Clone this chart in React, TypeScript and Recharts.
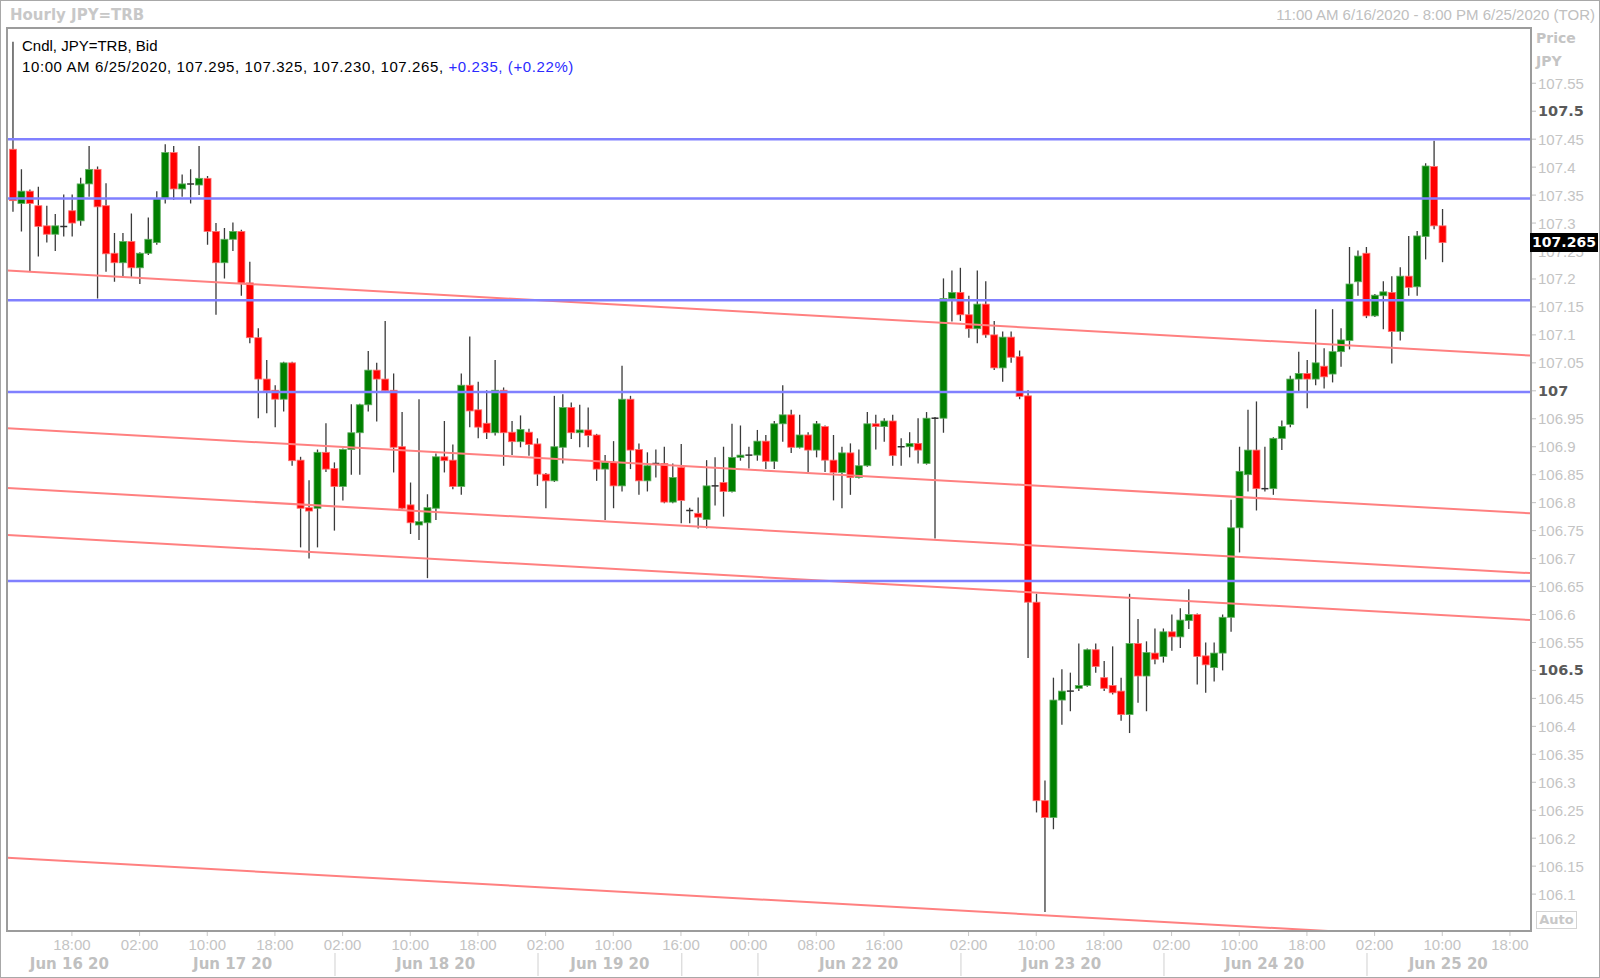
import { ComposedChart, Bar, XAxis, YAxis, ReferenceLine } from "recharts";

// hourly candles, 11:00 AM 6/16 -> 10:00 AM 6/25 (TOR)
const opens = [
  107.432, 107.335, 107.357, 107.331, 107.295, 107.28, 107.294, 107.322, 107.304, 107.37,
  107.396, 107.331, 107.246, 107.229, 107.267, 107.22, 107.246, 107.265, 107.344, 107.426,
  107.361, 107.37, 107.368, 107.38, 107.285, 107.229, 107.271, 107.285, 107.193, 107.095,
  107.021, 107.001, 106.985, 107.05, 106.876, 106.791, 106.79, 106.89, 106.861, 106.829,
  106.895, 106.925, 106.975, 107.037, 107.021, 107.001, 106.9, 106.796, 106.76, 106.764,
  106.79, 106.882, 106.876, 106.829, 107.01, 106.966, 106.942, 106.925, 107.001, 106.926,
  106.909, 106.926, 106.905, 106.851, 106.839, 106.899, 106.97, 106.925, 106.93, 106.921,
  106.86, 106.872, 106.83, 106.985, 106.895, 106.839, 106.87, 106.87, 106.801, 106.863,
  106.786, 106.781, 106.77, 106.83, 106.836, 106.82, 106.881, 106.885, 106.885, 106.91,
  106.874, 106.941, 106.957, 106.899, 106.921, 106.894, 106.936, 106.876, 106.854, 106.889,
  106.845, 106.866, 106.941, 106.936, 106.946, 106.9, 106.9, 106.906, 106.87, 106.951,
  106.951, 107.165, 107.176, 107.136, 107.111, 107.155, 107.1, 107.041, 107.096, 107.061,
  106.991, 106.622, 106.267, 106.237, 106.447, 106.463, 106.468, 106.473, 106.537, 106.487,
  106.473, 106.463, 106.421, 106.548, 106.49, 106.531, 106.525, 106.569, 106.56, 106.589,
  106.6, 106.526, 106.505, 106.531, 106.595, 106.755, 106.85, 106.894, 106.825, 106.825,
  106.915, 106.94, 107.021, 107.031, 107.021, 107.044, 107.03, 107.07, 107.09, 107.195,
  107.246, 107.134, 107.17, 107.176, 107.106, 107.205, 107.186, 107.276, 107.401, 107.295,
];
const highs = [
  107.624, 107.396, 107.36, 107.365, 107.331, 107.316, 107.351, 107.351, 107.381, 107.438,
  107.401, 107.371, 107.282, 107.282, 107.317, 107.248, 107.31, 107.357, 107.441, 107.438,
  107.387, 107.396, 107.438, 107.384, 107.3, 107.291, 107.301, 107.288, 107.231, 107.112,
  107.055, 107.01, 107.052, 107.052, 106.882, 106.84, 106.895, 106.942, 106.872, 106.897,
  106.976, 106.977, 107.071, 107.05, 107.125, 107.031, 106.962, 106.836, 106.985, 106.815,
  106.888, 106.946, 106.904, 107.031, 107.097, 107.016, 107.001, 107.055, 107.006, 106.946,
  106.956, 106.932, 106.915, 106.853, 106.991, 106.994, 106.979, 106.975, 106.97, 106.923,
  106.885, 106.91, 107.045, 106.991, 106.906, 106.89, 106.895, 106.9, 106.87, 106.905,
  106.791, 106.809, 106.876, 106.881, 106.9, 106.941, 106.938, 106.9, 106.93, 106.921,
  106.946, 107.01, 106.966, 106.957, 106.926, 106.946, 106.938, 106.921, 106.9, 106.906,
  106.895, 106.962, 106.957, 106.951, 106.957, 106.915, 106.926, 106.951, 106.962, 106.953,
  107.201, 107.215, 107.22, 107.17, 107.215, 107.196, 107.125, 107.106, 107.106, 107.072,
  107.001, 106.637, 106.303, 106.487, 106.502, 106.496, 106.548, 106.539, 106.548, 106.517,
  106.543, 106.487, 106.637, 106.592, 106.552, 106.575, 106.575, 106.6, 106.611, 106.645,
  106.602, 106.55, 106.55, 106.6, 106.805, 106.9, 106.966, 106.981, 106.9, 106.917,
  106.947, 107.027, 107.07, 107.055, 107.146, 107.076, 107.146, 107.112, 107.257, 107.251,
  107.257, 107.173, 107.196, 107.205, 107.221, 107.277, 107.286, 107.407, 107.447, 107.325,
];
const lows = [
  107.32, 107.285, 107.213, 107.24, 107.265, 107.25, 107.276, 107.276, 107.295, 107.347,
  107.165, 107.213, 107.195, 107.204, 107.204, 107.191, 107.243, 107.261, 107.335, 107.341,
  107.347, 107.335, 107.35, 107.261, 107.136, 107.201, 107.25, 107.17, 107.085, 106.951,
  106.96, 106.935, 106.963, 106.866, 106.72, 106.7, 106.72, 106.855, 106.75, 106.804,
  106.85, 106.85, 106.963, 106.945, 106.998, 106.854, 106.788, 106.744, 106.733, 106.665,
  106.769, 106.854, 106.824, 106.814, 106.935, 106.915, 106.914, 106.92, 106.866, 106.885,
  106.899, 106.884, 106.83, 106.79, 106.837, 106.87, 106.914, 106.899, 106.899, 106.839,
  106.769, 106.79, 106.82, 106.86, 106.814, 106.82, 106.845, 106.799, 106.799, 106.763,
  106.763, 106.754, 106.754, 106.795, 106.775, 106.818, 106.875, 106.861, 106.875, 106.86,
  106.86, 106.909, 106.889, 106.897, 106.855, 106.881, 106.855, 106.804, 106.79, 106.814,
  106.843, 106.864, 106.895, 106.909, 106.866, 106.866, 106.881, 106.87, 106.868, 106.736,
  106.925, 107.124, 107.125, 107.095, 107.085, 107.095, 107.037, 107.016, 107.05, 106.985,
  106.522, 106.246, 106.068, 106.216, 106.403, 106.427, 106.463, 106.471, 106.496, 106.463,
  106.457, 106.41, 106.388, 106.442, 106.427, 106.511, 106.514, 106.535, 106.54, 106.574,
  106.475, 106.46, 106.48, 106.5, 106.569, 106.711, 106.82, 106.786, 106.82, 106.814,
  106.894, 106.935, 106.999, 106.969, 107.01, 107.004, 107.015, 107.043, 107.074, 107.17,
  107.13, 107.132, 107.11, 107.049, 107.09, 107.17, 107.17, 107.235, 107.289, 107.23,
];
const closes = [
  107.34, 107.357, 107.335, 107.294, 107.28, 107.295, 107.294, 107.3, 107.37, 107.396,
  107.329, 107.245, 107.229, 107.267, 107.22, 107.246, 107.271, 107.344, 107.426, 107.361,
  107.37, 107.37, 107.38, 107.285, 107.229, 107.271, 107.285, 107.193, 107.095, 107.021,
  107.0, 106.985, 107.05, 106.875, 106.79, 106.785, 106.89, 106.86, 106.829, 106.895,
  106.925, 106.975, 107.037, 107.021, 107.0, 106.899, 106.79, 106.764, 106.766, 106.791,
  106.882, 106.875, 106.829, 107.01, 106.964, 106.935, 106.925, 107.001, 106.925, 106.909,
  106.931, 106.904, 106.851, 106.839, 106.9, 106.97, 106.925, 106.93, 106.92, 106.86,
  106.872, 106.83, 106.985, 106.894, 106.839, 106.866, 106.87, 106.801, 106.845, 106.804,
  106.786, 106.774, 106.83, 106.83, 106.82, 106.881, 106.885, 106.885, 106.91, 106.874,
  106.941, 106.957, 106.899, 106.921, 106.894, 106.941, 106.876, 106.854, 106.889, 106.845,
  106.866, 106.941, 106.936, 106.946, 106.884, 106.9, 106.906, 106.894, 106.951, 106.951,
  107.165, 107.176, 107.136, 107.111, 107.155, 107.1, 107.041, 107.096, 107.06, 106.99,
  106.622, 106.267, 106.237, 106.447, 106.463, 106.463, 106.473, 106.537, 106.507, 106.468,
  106.46, 106.421, 106.548, 106.49, 106.532, 106.52, 106.569, 106.56, 106.59, 106.6,
  106.525, 106.51, 106.531, 106.595, 106.755, 106.856, 106.894, 106.825, 106.825, 106.915,
  106.936, 107.021, 107.031, 107.021, 107.05, 107.025, 107.07, 107.091, 107.191, 107.241,
  107.134, 107.171, 107.177, 107.106, 107.205, 107.185, 107.277, 107.402, 107.295, 107.265,
];

const timeTicks = [7, 15, 23, 31, 39, 47, 55, 63, 71, 79, 87, 95, 103, 113, 121, 129, 137, 145, 153, 161, 169, 177];
const timeLabels = [
  "18:00", "02:00", "10:00", "18:00", "02:00", "10:00", "18:00", "02:00", "10:00", "16:00", "00:00",
  "08:00", "16:00", "02:00", "10:00", "18:00", "02:00", "10:00", "18:00", "02:00", "10:00", "18:00",
];
const dateTicks = [6.7, 26, 50, 70.6, 100, 124, 148, 169.7];
const dateLabels = ["Jun 16 20", "Jun 17 20", "Jun 18 20", "Jun 19 20", "Jun 22 20", "Jun 23 20", "Jun 24 20", "Jun 25 20"];
const dateSeparators = [38.1, 62.1, 79.1, 88.1, 112.1, 136.1, 160.1];

const priceTicks = [
  107.55, 107.5, 107.45, 107.4, 107.35, 107.3, 107.25, 107.2, 107.15, 107.1, 107.05, 107,
  106.95, 106.9, 106.85, 106.8, 106.75, 106.7, 106.65, 106.6, 106.55, 106.5, 106.45, 106.4,
  106.35, 106.3, 106.25, 106.2, 106.15, 106.1,
];
const boldPrices = [107.5, 107, 106.5];

// horizontal levels (blue) and the falling channel (red)
const levels = [107.45, 107.344, 107.162, 106.998, 106.66];
const channelStart = [107.215, 106.933, 106.826, 106.742, 106.165];
const channelEnd = [107.063, 106.781, 106.674, 106.59, 106.014];

const X_MIN = -0.615;
const X_MAX = 179.37;
const Y_MIN = 106.0358;
const Y_MAX = 107.6479;

const data = opens.map((o, i) => ({ i, open: o, high: highs[i], low: lows[i], close: closes[i] }));

const REG = "'Liberation Sans', Arial, sans-serif";
const BOLD = "'DejaVu Sans', Verdana, sans-serif";

function Candle(props: any) {
  const { x, y, width, height, payload } = props;
  if (!payload) return null;
  const { open, close, high, low } = payload;
  const top = Math.min(y, y + height);
  const h = Math.abs(height);
  const k = high > low ? h / (high - low) : 0;
  const py = (v: number) => top + (high - v) * k;
  const cx = x + width / 2;
  const doji = Math.abs(close - open) < 0.0015;
  const up = close >= open;
  const bTop = py(Math.max(open, close));
  const bBot = py(Math.min(open, close));
  return (
    <g>
      <line x1={cx} x2={cx} y1={py(high)} y2={py(low)} stroke="#3a3a3a" strokeWidth={1.3} />
      {doji ? (
        <line x1={x} x2={x + width} y1={py(close)} y2={py(close)} stroke="#303030" strokeWidth={1.5} />
      ) : (
        <rect
          x={x}
          y={bTop}
          width={width}
          height={Math.max(1, bBot - bTop)}
          fill={up ? "#008000" : "#ff0000"}
          stroke={up ? "#5fae5f" : "#ff7070"}
          strokeWidth={0.8}
        />
      )}
    </g>
  );
}

function TimeTick(props: any) {
  const { x, payload } = props;
  const idx = timeTicks.indexOf(payload.value);
  return (
    <g>
      <line x1={x} x2={x} y1={931} y2={936} stroke="#c8c8c8" />
      <text x={x} y={944} textAnchor="middle" dominantBaseline="central" fill="#c4c4c4" fontSize={15} fontFamily={REG}>
        {idx >= 0 ? timeLabels[idx] : ""}
      </text>
    </g>
  );
}

function DateTick(props: any) {
  const { x, payload } = props;
  const idx = dateTicks.indexOf(payload.value);
  if (idx < 0) {
    return <line x1={x} x2={x} y1={953} y2={976} stroke="#d0d0d0" strokeWidth={1} />;
  }
  return (
    <text x={x} y={964} textAnchor="middle" dominantBaseline="central" fill="#c0c0c0" fontSize={15} fontWeight="bold" fontFamily={BOLD}>
      {dateLabels[idx]}
    </text>
  );
}

function PriceTick(props: any) {
  const { y, payload } = props;
  const v = payload.value;
  const bold = boldPrices.some((b) => Math.abs(b - v) < 1e-6);
  return (
    <g>
      <line x1={1531} x2={1536} y1={y} y2={y} stroke="#c0c0c0" />
      <text
        x={1538}
        y={y}
        dominantBaseline="central"
        fill={bold ? "#5a5a5a" : "#c4c4c4"}
        fontSize={bold ? 14.5 : 15}
        fontWeight={bold ? "bold" : "normal"}
        fontFamily={bold ? BOLD : REG}
      >
        {parseFloat(v.toFixed(2)).toString()}
      </text>
    </g>
  );
}

export default function App() {
  const last = closes[closes.length - 1];
  const lastY = 111.2 + (107.5 - last) * 559.2;
  return (
    <div style={{ position: "absolute", left: 0, top: 0, width: 1600, height: 978, background: "#fff", overflow: "hidden" }}>
      <ComposedChart width={1600} height={978} data={data} margin={{ top: 28.5, right: 0, bottom: 0, left: 7.5 }}>
        <XAxis
          dataKey="i"
          type="number"
          domain={[X_MIN, X_MAX]}
          allowDataOverflow
          ticks={timeTicks}
          interval={0}
          height={20}
          axisLine={false}
          tickLine={false}
          tick={<TimeTick />}
        />
        <XAxis
          xAxisId="date"
          dataKey="i"
          type="number"
          domain={[X_MIN, X_MAX]}
          allowDataOverflow
          ticks={[...dateTicks, ...dateSeparators]}
          interval={0}
          height={28}
          axisLine={false}
          tickLine={false}
          tick={<DateTick />}
        />
        <YAxis
          orientation="right"
          type="number"
          domain={[Y_MIN, Y_MAX]}
          allowDataOverflow
          ticks={priceTicks}
          interval={0}
          width={70}
          axisLine={false}
          tickLine={false}
          tick={<PriceTick />}
        />
        <Bar dataKey={(d: any) => [d.low, d.high]} barSize={7} shape={<Candle />} isAnimationActive={false} />
        {channelStart.map((s, k) => (
          <ReferenceLine
            key={"c" + k}
            segment={[{ x: X_MIN, y: s }, { x: X_MAX, y: channelEnd[k] }]}
            stroke="#ff8080"
            strokeWidth={2}
            ifOverflow="hidden"
          />
        ))}
        {levels.map((v) => (
          <ReferenceLine key={"l" + v} y={v} stroke="#8080ff" strokeWidth={2.5} ifOverflow="hidden" />
        ))}
      </ComposedChart>

      {/* frame */}
      <div style={{ position: "absolute", left: 0, top: 0, width: 1600, height: 978, boxSizing: "border-box", border: "1px solid #a8a8a8", pointerEvents: "none" }} />
      <div style={{ position: "absolute", left: 6, top: 27, width: 1526, height: 905, boxSizing: "border-box", border: "2px solid #9c9c9c", pointerEvents: "none" }} />

      {/* titles */}
      <div style={{ position: "absolute", left: 10, top: 5, lineHeight: "20px", fontFamily: BOLD, fontWeight: "bold", fontSize: 15, color: "#c8c8c8" }}>
        Hourly JPY=TRB
      </div>
      <div style={{ position: "absolute", right: 5, top: 5, lineHeight: "20px", fontFamily: REG, fontSize: 15, color: "#c0c0c0" }}>
        11:00 AM 6/16/2020 - 8:00 PM 6/25/2020 (TOR)
      </div>
      <div style={{ position: "absolute", left: 22, top: 36, lineHeight: "20px", fontFamily: REG, fontSize: 15, color: "#000" }}>
        Cndl, JPY=TRB, Bid
      </div>
      <div style={{ position: "absolute", left: 22, top: 57, lineHeight: "20px", fontFamily: REG, fontSize: 15, letterSpacing: "0.6px", color: "#000" }}>
        10:00 AM 6/25/2020, 107.295, 107.325, 107.230, 107.265, <span style={{ color: "#2b2bff" }}>+0.235, (+0.22%)</span>
      </div>

      {/* right axis extras */}
      <div style={{ position: "absolute", left: 1536, top: 28, lineHeight: "20px", fontFamily: BOLD, fontWeight: "bold", fontSize: 14, color: "#c4c4c4" }}>
        Price
      </div>
      <div style={{ position: "absolute", left: 1536, top: 51, lineHeight: "20px", fontFamily: BOLD, fontWeight: "bold", fontSize: 14, color: "#c4c4c4" }}>
        JPY
      </div>
      <div
        style={{
          position: "absolute",
          left: 1530,
          top: lastY - 9.5,
          width: 68,
          height: 19,
          background: "#000",
          color: "#fff",
          fontFamily: BOLD,
          fontWeight: "bold",
          fontSize: 14,
          lineHeight: "19px",
          textAlign: "center",
        }}
      >
        {last.toFixed(3)}
      </div>
      <div
        style={{
          position: "absolute",
          left: 1536,
          top: 911,
          width: 41,
          height: 18,
          boxSizing: "border-box",
          border: "1px solid #d4d4d4",
          fontFamily: BOLD,
          fontWeight: "bold",
          fontSize: 13,
          lineHeight: "16px",
          textAlign: "center",
          color: "#c8c8c8",
        }}
      >
        Auto
      </div>
    </div>
  );
}
